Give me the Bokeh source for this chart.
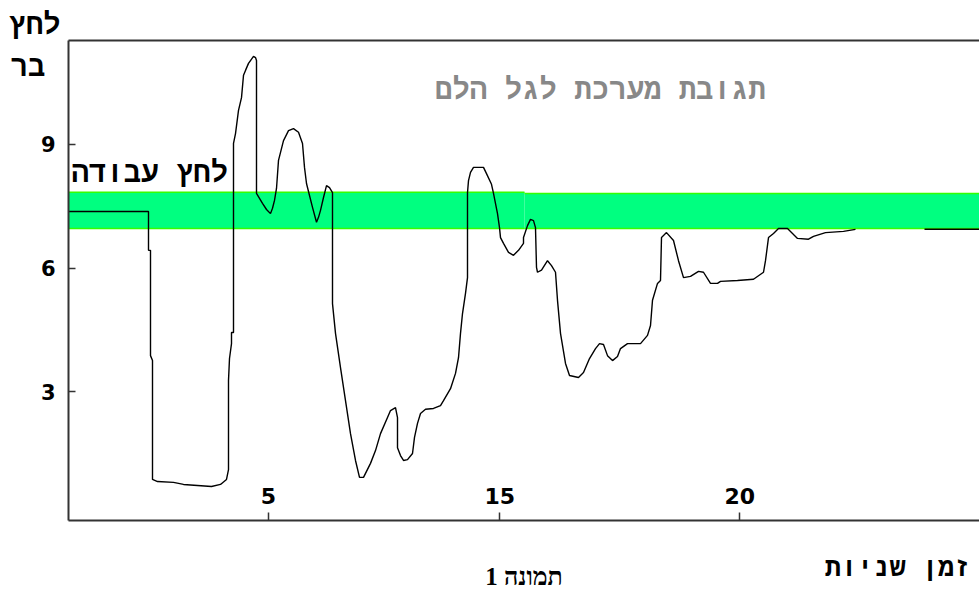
from bokeh.plotting import figure
from bokeh.models import Range1d, FixedTicker, LinearAxis, Label
from bokeh.embed import file_html
from bokeh.resources import INLINE

nan = float("nan")

# time (arbitrary seconds scale) and pressure (bar)
time_s = [0, 2.0, 2.0, 2.05, 2.05, 2.1, 2.1, 2.225, 2.625, 2.875, 3.575, 3.8, 3.95, 4.0, 4.0,
          4.025, 4.075, 4.075, 4.125, 4.125, 4.175, 4.25, 4.325, 4.375, 4.425, 4.5, 4.625, 4.675,
          4.7, 4.7, 4.85, 4.95, 5.05, 5.1, 5.15, 5.2, 5.25, 5.375, 5.5, 5.625, 5.75, 5.85, 5.9,
          5.95, 6.025, 6.1, 6.2, 6.25, 6.3, 6.375, 6.45, 6.525, 6.6, 6.6, 6.675, 6.8, 6.925, 7.05,
          7.175, 7.275, 7.375, 7.55, 7.675, 7.8, 7.975, 8.05, 8.175, 8.225, 8.225, 8.3, 8.375,
          8.475, 8.6, 8.65, 8.725, 8.8, 8.925, 9.125, 9.3, 9.375, 9.55, 9.675, 9.75, 9.8, 9.85,
          9.925, 9.975, 9.975, 10.0, 10.05, 10.125, 10.375, 10.45, 10.575, 10.625, 10.725, 10.775,
          10.8, 10.875, 11.0, 11.125, 11.25, 11.375, 11.375, 11.475, 11.55, 11.625, 11.675, 11.7,
          11.725, 11.825, 11.975, 12.075, 12.175, 12.225, 12.3, 12.425, 12.525, 12.75, 12.875,
          13.025, 13.175, 13.275, 13.375, 13.475, 13.6, 13.725, 13.8, 13.975, 14.3, 14.475, 14.55,
          14.6, 14.725, 14.8, 14.825, 14.95, 15.125, 15.25, 15.375, 15.55, 15.75, 15.875, 16.05,
          16.225, 16.3, 16.725, 17.125, 17.375, 17.425, 17.5, 17.625, 17.75, 17.975, 18.225, 18.5,
          18.625, 18.925, 19.375, 19.675, nan, 21.4, 22.775]
pressure_bar = [7.37, 7.37, 6.43, 6.43, 3.88, 3.76, 0.88, 0.83, 0.81, 0.76, 0.71, 0.76, 0.88, 1.12, 3.28,
                3.81, 4.17, 4.44, 4.44, 9.02, 9.26, 9.82, 10.13, 10.67, 10.79, 10.96, 11.13, 11.10,
                11.03, 7.81, 7.57, 7.42, 7.32, 7.45, 7.64, 7.93, 8.61, 9.09, 9.33, 9.38, 9.29, 9.02, 8.44,
                8.05, 7.76, 7.47, 7.11, 7.23, 7.40, 7.71, 8.00, 7.95, 7.83, 5.14, 4.42, 3.59, 2.79, 1.99,
                1.34, 0.93, 0.93, 1.27, 1.58, 1.99, 2.38, 2.55, 2.62, 2.38, 1.65, 1.46, 1.34,
                1.36, 1.51, 1.90, 2.24, 2.48, 2.58, 2.60, 2.67, 2.79, 3.08, 3.45, 3.83, 4.42, 4.90,
                5.39, 5.77, 7.83, 8.12, 8.32, 8.44, 8.44, 8.29, 8.03, 7.81, 7.32, 6.98,
                6.74, 6.60, 6.38, 6.31, 6.43, 6.60, 6.74, 7.03, 7.18, 7.15, 6.98, 6.02,
                5.90, 5.95, 6.18, 6.06, 5.90, 5.22, 4.42, 3.69, 3.40, 3.35, 3.47,
                3.81, 4.05, 4.17, 4.15, 3.88, 3.76, 3.86, 4.05, 4.17, 4.17, 4.37, 4.61,
                5.22, 5.63, 5.70, 6.74, 6.86, 6.67, 6.18, 5.77, 5.80, 5.92, 5.90, 5.63,
                5.63, 5.68, 5.70, 5.73, 5.90, 6.18, 6.74, 6.84, 6.96, 6.96, 6.72, 6.70,
                6.77, 6.86, 6.89, 6.94, nan, 6.94, 6.94]

# working-pressure band (two segments)
band_x = [0, 11.4, 22.775]
band_top = [7.84, 7.81]
band_bottom = [6.96, 6.96]

y_ticks = [3, 6, 9]
x_tick_pos = [5.0, 10.78, 16.78]
x_tick_labels = ["5", "15", "20"]

title_text = "תגובת מערכת לגל הלם"
band_text = "לחץ עבודה"
ylab1 = "לחץ"
ylab2 = "בר"
xlab = "זמן שניות"
caption = "תמונה 1"

# chart box in data units
X0, X1 = 0.0, 22.775
Y0, Y1 = -0.11, 11.51
# the frame covers the whole canvas so that outer texts are not clipped
VIEW_X = (-1.7, 22.775)
VIEW_Y = (-1.8338, 12.483)

p = figure(frame_width=979, frame_height=591,
           x_range=Range1d(*VIEW_X), y_range=Range1d(*VIEW_Y),
           output_backend="svg", toolbar_location=None,
           min_border_left=0, min_border_right=0, min_border_top=0, min_border_bottom=0)
p.outline_line_color = None
p.background_fill_color = "white"
p.border_fill_color = "white"
p.xgrid.visible = False
p.ygrid.visible = False

axis_col = "#333333"
# left axis, fixed on the chart box edge
ya = p.yaxis[0]
ya.fixed_location = X0
ya.bounds = (Y0, Y1)
ya.ticker = FixedTicker(ticks=y_ticks)
ya.axis_line_width = 2
ya.axis_line_color = axis_col
ya.major_tick_in = 7
ya.major_tick_out = 0
ya.major_tick_line_color = axis_col
ya.major_tick_line_width = 1.5
ya.minor_tick_line_color = None
ya.major_label_text_font = "DejaVu Sans"
ya.major_label_text_font_style = "bold"
ya.major_label_text_font_size = "21px"
ya.major_label_text_color = "black"
ya.major_label_standoff = 13

# bottom axis: labels sit just above the axis line
xa = p.xaxis[0]
xa.fixed_location = Y0
xa.bounds = (X0, X1)
xa.ticker = FixedTicker(ticks=x_tick_pos)
xa.major_label_overrides = {pos: lab for pos, lab in zip(x_tick_pos, x_tick_labels)}
xa.axis_line_width = 2
xa.axis_line_color = axis_col
xa.major_tick_in = 8
xa.major_tick_out = 0
xa.major_tick_line_color = axis_col
xa.major_tick_line_width = 1.5
xa.minor_tick_line_color = None
xa.major_label_text_font = "DejaVu Sans"
xa.major_label_text_font_style = "bold"
xa.major_label_text_font_size = "22px"
xa.major_label_text_color = "black"
xa.major_label_standoff = -32

# top frame line
top = LinearAxis(ticker=FixedTicker(ticks=[]), axis_line_width=2, axis_line_color=axis_col,
                 major_tick_line_color=None, minor_tick_line_color=None,
                 fixed_location=Y1, bounds=(X0, X1))
p.add_layout(top, "above")

# band
p.quad(left=band_x[:-1], right=band_x[1:], top=band_top, bottom=band_bottom,
       fill_color="#00ff80", line_color=None)
p.segment(x0=band_x[:-1], x1=band_x[1:], y0=band_top, y1=band_top, line_color="#33ff00", line_width=1.5)
p.segment(x0=band_x[:-1], x1=band_x[1:], y0=band_bottom, y1=band_bottom, line_color="#33ff00", line_width=1.5)

# response curve
p.line(time_s, pressure_bar, line_color="black", line_width=1.4)

mono = "Liberation Mono"


def label(x, y, text, font, size, color="black", align="left"):
    p.add_layout(Label(x=x, y=y, text=text, text_font=font, text_font_style="bold",
                       text_font_size=size, text_color=color, text_align=align,
                       text_baseline="alphabetic"))


label(17.43, 10.28, title_text, mono, "29px", color="#888888", align="right")
label(0.075, 8.256, band_text, mono, "29px")
label(-1.5, 11.853, ylab1, mono, "29px")
label(-1.45, 10.836, ylab2, mono, "29px")
label(22.55, -1.30, xlab, mono, "27px", align="right")
label(11.3875, -1.47, caption, "Liberation Serif", "25px", align="center")

open("out.html", "w").write(file_html(p, INLINE))
